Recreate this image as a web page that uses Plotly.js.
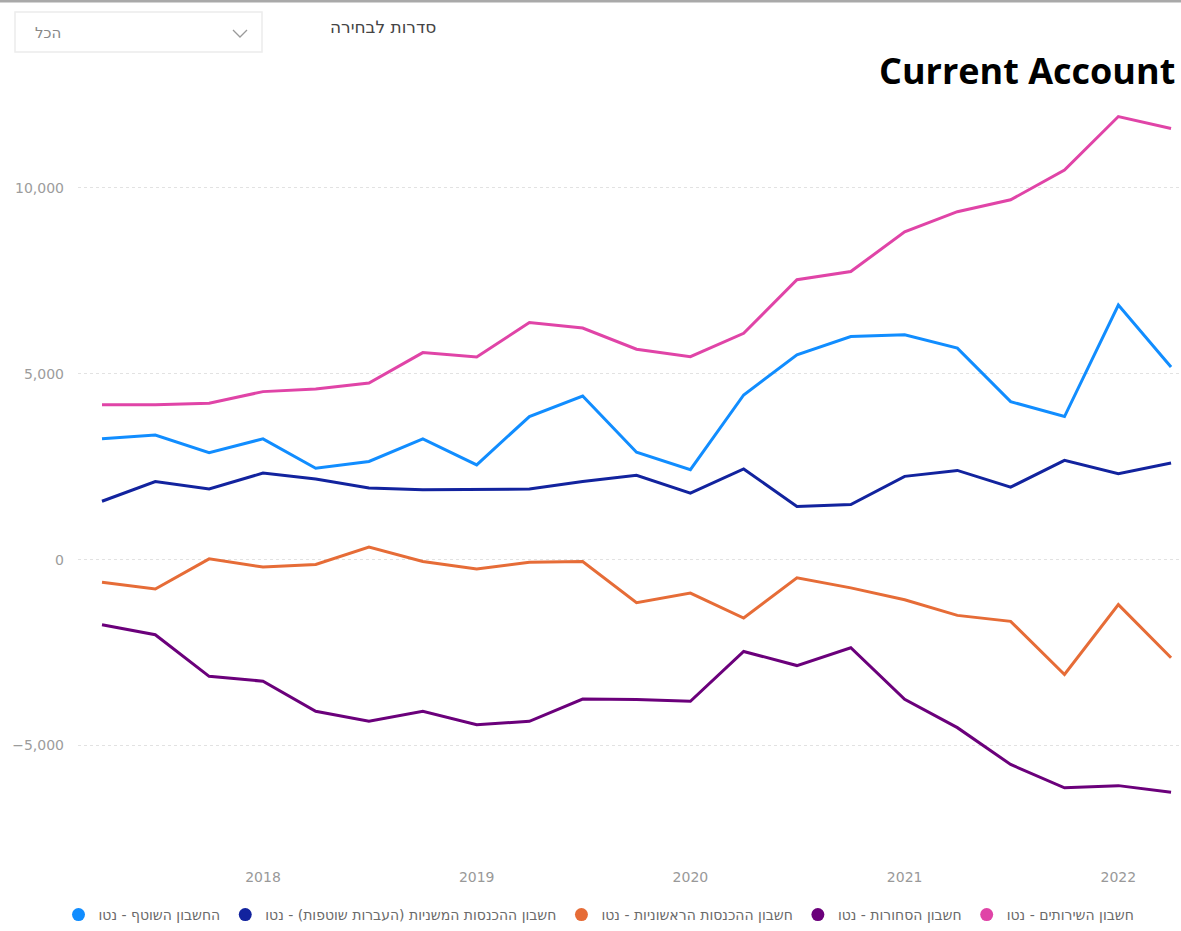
<!DOCTYPE html>
<html>
<head>
<meta charset="utf-8">
<script src="https://cdn.plot.ly/plotly-3.0.1.min.js"></script>
<style>
  html, body { margin: 0; padding: 0; background: #ffffff; }
  #chart { width: 1181px; height: 931px; }
</style>
</head>
<body>
<div id="chart"></div>
<script>
// ---- data (quarterly) ----
const quarters = ['2017-04-01','2017-07-01','2017-10-01','2018-01-01','2018-04-01','2018-07-01','2018-10-01',
                  '2019-01-01','2019-04-01','2019-07-01','2019-10-01','2020-01-01','2020-04-01','2020-07-01',
                  '2020-10-01','2021-01-01','2021-04-01','2021-07-01','2021-10-01','2022-01-01','2022-04-01'];
const currentAccount = [3250, 3350, 2880, 3250, 2460, 2640, 3250, 2550, 3850, 4400, 2890, 2420, 4430, 5510, 6000, 6050, 5690, 4250, 3850, 6850, 5180];
const secondaryIncome = [1570, 2100, 1900, 2330, 2170, 1930, 1880, 1880, 1900, 2100, 2270, 1790, 2440, 1430, 1480, 2240, 2400, 1950, 2670, 2310, 2600];
const primaryIncome = [-610, -790, 20, -200, -130, 340, -50, -250, -70, -50, -1160, -900, -1570, -490, -760, -1080, -1500, -1660, -3090, -1210, -2640];
const goods = [-1750, -2020, -3140, -3270, -4080, -4350, -4080, -4440, -4350, -3750, -3760, -3810, -2470, -2850, -2370, -3760, -4520, -5510, -6140, -6080, -6260];
const services = [4170, 4170, 4210, 4520, 4590, 4750, 5570, 5450, 6380, 6230, 5660, 5460, 6090, 7530, 7750, 8820, 9360, 9680, 10480, 11920, 11600];

const seriesNames = ['החשבון השוטף - נטו',
                     'חשבון ההכנסות המשניות (העברות שוטפות) - נטו',
                     'חשבון ההכנסות הראשוניות - נטו',
                     'חשבון הסחורות - נטו',
                     'חשבון השירותים - נטו'];
const seriesValues = [currentAccount, secondaryIncome, primaryIncome, goods, services];
const seriesColors = ['#118DFF', '#12239E', '#E66C37', '#6B007B', '#E044A7'];
const yTicks = [-5000, 0, 5000, 10000];
const xTicks = ['2018-01-01','2019-01-01','2020-01-01','2021-01-01','2022-01-01'];
const titleText = 'Current Account';
const slicerLabel = 'סדרות לבחירה';
const slicerValue = 'הכל';

// ---- layout geometry (pixels) ----
const W = 1181, H = 931;
const L = 78, R = 1181, T = 95, B = 857.6;
const px = x => (x - L) / (R - L);
const py = y => (B - y) / (B - T);

const traces = [];
seriesValues.forEach((vals, i) => {
  traces.push({
    x: quarters, y: vals, type: 'scatter', mode: 'lines',
    line: {color: seriesColors[i], width: 3, shape: 'linear'},
    showlegend: false, hoverinfo: 'skip', name: seriesNames[i]
  });
});
seriesNames.forEach((n, i) => {
  traces.push({
    x: [null], y: [null], type: 'scatter', mode: 'markers',
    marker: {color: seriesColors[i], size: 13, symbol: 'circle'},
    name: n, showlegend: true, hoverinfo: 'skip'
  });
});

const layout = {
  width: W, height: H,
  margin: {l: L, r: W - R, t: T, b: H - B, pad: 0},
  paper_bgcolor: '#ffffff', plot_bgcolor: '#ffffff',
  separators: '.,',
  font: {family: 'DejaVu Sans, sans-serif', color: '#8a8a8a', size: 13},
  showlegend: true,
  legend: {
    orientation: 'h', x: px(599), xanchor: 'center', y: py(916), yanchor: 'middle',
    font: {family: 'DejaVu Sans, sans-serif', size: 14, color: '#6a6a6a'},
    itemwidth: 30, tracegroupgap: 0, bgcolor: 'rgba(0,0,0,0)'
  },
  xaxis: {
    type: 'date', range: ['2017-02-19', '2022-04-18'],
    tickvals: xTicks, tickformat: '%Y',
    showgrid: false, zeroline: false, showline: false, ticks: '',
    tickfont: {family: 'DejaVu Sans, sans-serif', size: 14, color: '#999999'},
    ticklabelstandoff: 10, fixedrange: true
  },
  yaxis: {
    range: [-8000, 12500], tickvals: yTicks, tickformat: ',d',
    showgrid: true, gridcolor: '#e2e2e2', griddash: 'dot', gridwidth: 1,
    zeroline: false, showline: false, ticks: '',
    tickfont: {family: 'DejaVu Sans, sans-serif', size: 14, color: '#9c9c9c'},
    ticklabelstandoff: 13, fixedrange: true
  },
  shapes: [
    {type: 'line', xref: 'paper', yref: 'paper', x0: px(0), x1: px(W), y0: py(1), y1: py(1),
     line: {color: '#a9a9a9', width: 3}},
    {type: 'rect', xref: 'paper', yref: 'paper', x0: px(15), x1: px(262), y0: py(52), y1: py(12),
     fillcolor: '#ffffff', line: {color: '#ececec', width: 1.5}},
    {type: 'path', xref: 'paper', yref: 'paper',
     path: `M ${px(233)} ${py(30)} L ${px(240)} ${py(37)} L ${px(247)} ${py(30)}`,
     line: {color: '#9a9a9a', width: 1.3}}
  ],
  annotations: [
    {xref: 'paper', yref: 'paper', x: px(1177), y: py(70), xanchor: 'right', yanchor: 'middle',
     text: '<b>' + titleText + '</b>', showarrow: false,
     font: {family: 'Open Sans, sans-serif', size: 36, color: '#000000'}},
    {xref: 'paper', yref: 'paper', x: px(383), y: py(27), xanchor: 'center', yanchor: 'middle',
     text: slicerLabel, showarrow: false,
     font: {family: 'DejaVu Sans, sans-serif', size: 17, color: '#444444'}},
    {xref: 'paper', yref: 'paper', x: px(48), y: py(33), xanchor: 'center', yanchor: 'middle',
     text: slicerValue, showarrow: false,
     font: {family: 'DejaVu Sans, sans-serif', size: 15, color: '#888888'}}
  ]
};

Plotly.newPlot('chart', traces, layout, {displayModeBar: false, staticPlot: true});
</script>
</body>
</html>
